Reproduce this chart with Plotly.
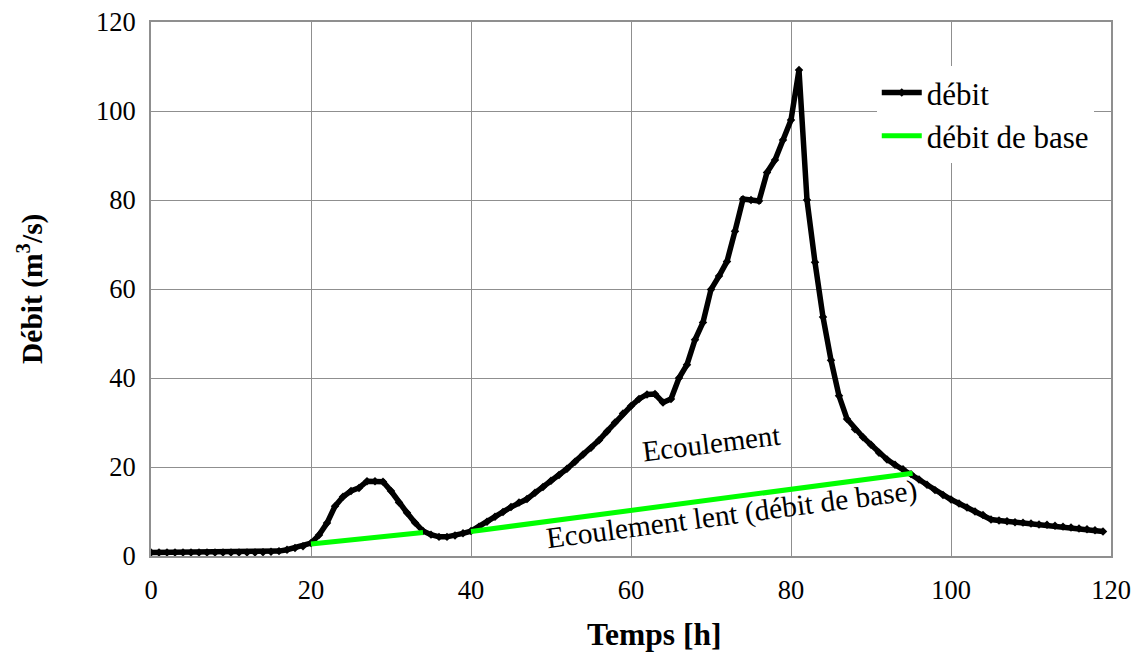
import plotly.graph_objects as go

hours = list(range(0, 120))
debit = [
    0.8, 0.8, 0.8, 0.8, 0.8, 0.8, 0.8, 0.8, 0.8, 0.8,
    0.8, 0.8, 0.8, 0.8, 0.85, 0.95, 1.1, 1.4, 1.8, 2.2,
    2.9, 4.7, 7.4, 11.2, 13.3, 14.6, 15.3, 16.8, 16.8, 16.7,
    14.6, 12.0, 9.7, 7.5, 5.6, 4.8, 4.3, 4.3, 4.6, 5.1,
    5.6, 6.6, 7.7, 8.8, 9.9, 11.0, 12.0, 12.8, 14.2, 15.5,
    16.9, 18.2, 19.6, 21.2, 22.8, 24.3, 26.0, 28.0, 30.0, 32.0,
    33.7, 35.3, 36.3, 36.4, 34.5, 35.3, 40.0, 43.0, 48.6, 52.5,
    59.9, 62.9, 66.2, 73.0, 80.2, 80.0, 79.8, 86.2, 89.0, 93.5,
    98.0, 109.2, 80.0, 66.0, 53.7, 44.0, 36.0, 30.8, 28.5, 26.7,
    25.0, 23.2, 21.7, 20.5, 19.5, 18.4, 17.2, 16.0, 14.8, 13.7,
    12.7, 11.8, 10.9, 10.0, 9.2, 8.2, 8.0, 7.8, 7.6, 7.5,
    7.3, 7.1, 7.0, 6.8, 6.6, 6.4, 6.2, 6.0, 5.8, 5.5,
]
base_x = [20, 34, None, 40, 95.2]
base_y = [2.7, 5.3, None, 5.5, 18.6]

tick_vals = [0, 20, 40, 60, 80, 100, 120]
tick_text = ["0", "20", "40", "60", "80", "100", "120"]

FONT = "Liberation Serif, Times New Roman, serif"
GRID = "#8f8f8f"

fig = go.Figure()
fig.add_trace(go.Scatter(
    x=hours, y=debit, name="débit", mode="lines+markers",
    line=dict(color="black", width=5.5),
    marker=dict(symbol="diamond", size=6.5, color="black"),
))
fig.add_trace(go.Scatter(
    x=base_x, y=base_y, name="débit de base", mode="lines",
    line=dict(color="#00ff00", width=5), connectgaps=False,
))

fig.update_layout(
    width=1140, height=653,
    margin=dict(l=151, r=29, t=22, b=97, autoexpand=False),
    paper_bgcolor="white", plot_bgcolor="white",
    font=dict(family=FONT, size=26, color="black"),
    showlegend=True,
    legend=dict(
        x=0.756, y=0.918, xanchor="left", yanchor="top",
        bgcolor="white", borderwidth=0,
        font=dict(family=FONT, size=31, color="black"),
        tracegroupgap=0, itemwidth=40,
    ),
    xaxis=dict(
        range=[0, 120], tickvals=tick_vals, ticktext=tick_text,
        showgrid=True, gridcolor=GRID, gridwidth=1.3,
        showline=True, linecolor=GRID, linewidth=2, mirror=True,
        zeroline=False, ticks="", ticklabelstandoff=9, automargin=False,
        tickfont=dict(family=FONT, size=26.5, color="black"),
    ),
    yaxis=dict(
        range=[0, 120], tickvals=tick_vals, ticktext=tick_text,
        showgrid=True, gridcolor=GRID, gridwidth=1.3,
        showline=True, linecolor=GRID, linewidth=2, mirror=True,
        zeroline=False, ticks="", ticklabelstandoff=8, automargin=False,
        tickfont=dict(family=FONT, size=26.5, color="black"),
    ),
    annotations=[
        dict(text="<b>Temps [h]</b>", xref="paper", yref="paper",
             x=(654 - 151) / 960, y=-(636 - 557) / 535,
             xanchor="center", yanchor="middle", showarrow=False,
             font=dict(family=FONT, size=31.5, color="black")),
        dict(text="<b>Débit (m<sup>3</sup>/s)</b>", xref="paper", yref="paper",
             x=-(151 - 30) / 960, y=0.5, textangle=-90,
             xanchor="center", yanchor="middle", showarrow=False,
             font=dict(family=FONT, size=29.5, color="black")),
        dict(text="Ecoulement", x=70.1, y=25.4, textangle=-7,
             xanchor="center", yanchor="middle", showarrow=False,
             font=dict(family=FONT, size=29, color="black")),
        dict(text="Ecoulement lent (débit de base)", x=72.6, y=9.3, textangle=-7.5,
             xanchor="center", yanchor="middle", showarrow=False,
             font=dict(family=FONT, size=29.5, color="black")),
    ],
)

fig.write_html("out.html")
